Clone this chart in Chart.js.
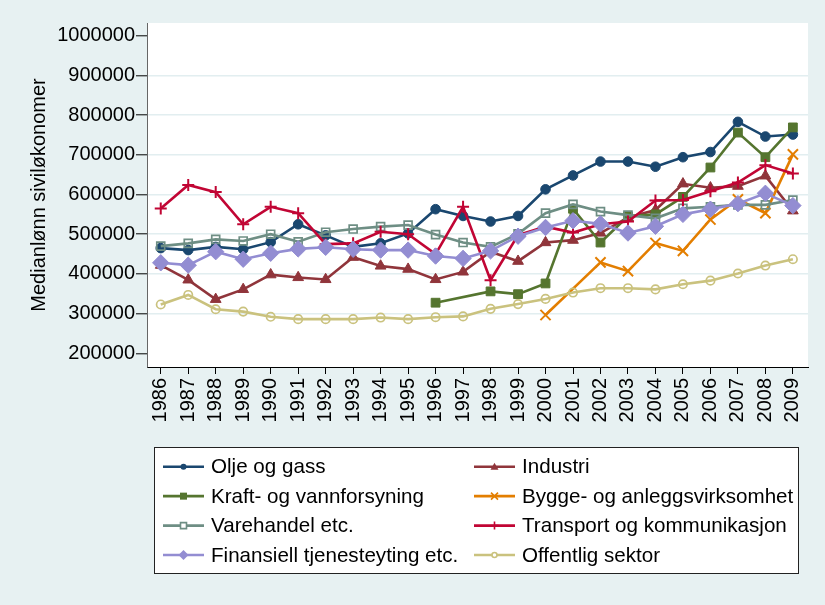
<!DOCTYPE html>
<html><head><meta charset="utf-8">
<script src="https://cdn.jsdelivr.net/npm/chart.js@4.4.1/dist/chart.umd.min.js"></script>
<style>html,body{margin:0;padding:0;background:#e7f1f2;}canvas{display:block;}</style>
</head><body>
<canvas id="c" width="825" height="605"></canvas>
<script>
// ---------- data ----------
const years = [1986,1987,1988,1989,1990,1991,1992,1993,1994,1995,1996,1997,1998,1999,2000,2001,2002,2003,2004,2005,2006,2007,2008,2009];
const yTicks = [200000,300000,400000,500000,600000,700000,800000,900000,1000000];
const yTitle = 'Medianlønn siviløkonomer';
const seriesNames = ['Olje og gass','Industri','Kraft- og vannforsyning','Bygge- og anleggsvirksomhet','Varehandel etc.','Transport og kommunikasjon','Finansiell tjenesteyting etc.','Offentlig sektor'];
const oljeOgGass = [465000,460000,468000,462000,480000,525000,497000,468000,477000,502000,563000,546000,532000,546000,613000,648000,683000,683000,670000,694000,707000,783000,746000,751000];
const industri = [422000,385000,336000,361000,398000,391000,386000,442000,420000,412000,386000,405000,456000,432000,479000,485000,503000,542000,561000,627000,617000,621000,647000,559000];
const kraftVann = [null,null,null,null,null,null,null,null,null,null,327500,null,356000,349000,376000,564000,479000,545000,550000,594000,668000,756000,694000,769000];
const byggeAnlegg = [null,null,null,null,null,null,null,null,null,null,null,null,null,null,296500,null,429000,407000,478000,458000,537000,588000,553000,701000];
const varehandel = [470000,477000,487000,483000,500000,481000,505000,513000,519000,523000,499000,479000,468000,501000,553000,575000,557000,548000,540000,565000,569000,574000,574000,586000];
const transport = [565000,624000,606000,525000,569000,553000,475000,477000,506000,500000,450000,569000,384000,498000,519000,504000,525000,532000,585000,586000,608000,630000,674000,653000];
const finansiell = [428000,422000,456000,437000,452000,463000,467000,462000,460000,460000,445000,439000,458000,495000,517000,534000,526000,503000,520000,550000,563000,577000,603000,572000];
const offentlig = [323000,347000,311000,305000,292000,286000,286000,286000,290000,286000,291000,293000,312000,324000,337000,353000,364000,364000,361000,374000,383000,401000,421000,437000];

// ---------- styles ----------
const FONT = "'Liberation Sans', Arial, Helvetica, sans-serif";
const BG = '#e7f1f2';
const styles = [
  {color:'#1a476f', point:'circle',   r:4.8, fill:true,  bw:1},
  {color:'#90353b', point:'triangle', r:6.2, fill:true,  bw:1},
  {color:'#55752f', point:'rect',     r:6.2, fill:true,  bw:1},
  {color:'#e37e00', point:'crossRot', r:7.2, fill:false, bw:2},
  {color:'#6e8e84', point:'rect',     r:5.6, fill:false, bw:1.7},
  {color:'#c10534', point:'cross',    r:6,   fill:false, bw:2},
  {color:'#938dd2', point:'rectRot',  r:8.2, fill:true,  bw:1},
  {color:'#cac27e', point:'circle',   r:4.2, fill:false, bw:1.7}
];
const seriesData = [oljeOgGass, industri, kraftVann, byggeAnlegg, varehandel, transport, finansiell, offentlig];

const datasets = seriesData.map((arr, i) => {
  const s = styles[i];
  return {
    label: seriesNames[i],
    data: years.map((yr, k) => ({x: yr, y: arr[k]})),
    borderColor: s.color,
    backgroundColor: s.color,
    borderWidth: 2.6,
    pointStyle: s.point,
    pointRadius: s.r,
    pointBorderWidth: s.bw,
    pointBackgroundColor: s.fill ? s.color : 'rgba(255,255,255,0)',
    pointBorderColor: s.color,
    tension: 0,
    spanGaps: true,
    order: seriesData.length - i
  };
});

const bgPlugin = {
  id: 'bg',
  beforeDraw(chart) {
    const {ctx, chartArea: a} = chart;
    ctx.save();
    ctx.fillStyle = BG;
    ctx.fillRect(0, 0, chart.width, chart.height);
    ctx.fillStyle = '#ffffff';
    ctx.fillRect(a.left, a.top, a.right - a.left, a.bottom - a.top);
    ctx.restore();
  }
};

function drawMarker(ctx, style, x, y, size, color, fill) {
  ctx.save();
  ctx.strokeStyle = color; ctx.fillStyle = color; ctx.lineWidth = 1.6;
  ctx.beginPath();
  switch (style) {
    case 'circle': ctx.arc(x, y, size, 0, Math.PI * 2); break;
    case 'triangle': ctx.moveTo(x, y - size); ctx.lineTo(x + size, y + size * 0.75); ctx.lineTo(x - size, y + size * 0.75); ctx.closePath(); break;
    case 'rect': ctx.rect(x - size, y - size, size * 2, size * 2); break;
    case 'rectRot': ctx.moveTo(x, y - size); ctx.lineTo(x + size, y); ctx.lineTo(x, y + size); ctx.lineTo(x - size, y); ctx.closePath(); break;
    case 'crossRot': ctx.moveTo(x - size, y - size); ctx.lineTo(x + size, y + size); ctx.moveTo(x + size, y - size); ctx.lineTo(x - size, y + size); break;
    case 'cross': ctx.moveTo(x, y - size); ctx.lineTo(x, y + size); ctx.moveTo(x - size, y); ctx.lineTo(x + size, y); break;
  }
  if (fill && style !== 'cross' && style !== 'crossRot') { ctx.fill(); }
  else if (!fill && style !== 'cross' && style !== 'crossRot') { ctx.fillStyle = '#fff'; ctx.fill(); ctx.stroke(); }
  else { ctx.stroke(); }
  ctx.restore();
}

const legendPlugin = {
  id: 'customLegend',
  afterDraw(chart) {
    const ctx = chart.ctx;
    const box = {x: 154.5, y: 447.5, w: 644, h: 126};
    ctx.save();
    ctx.fillStyle = '#ffffff';
    ctx.fillRect(box.x, box.y, box.w, box.h);
    ctx.strokeStyle = '#222';
    ctx.lineWidth = 1;
    ctx.strokeRect(box.x, box.y, box.w, box.h);
    const rowY0 = 466.7, rowH = 29.45;
    const lineX = [163, 474], lineLen = 41, textX = [211, 522];
    const mSize = [3, 4, 3.5, 3.5, 3, 4, 5, 2.5];
    ctx.font = '20.6px ' + FONT;
    ctx.textBaseline = 'middle';
    chart.data.datasets.forEach((ds, i) => {
      const col = i % 2, row = Math.floor(i / 2);
      const y = rowY0 + row * rowH;
      const s = styles[i];
      ctx.strokeStyle = s.color;
      ctx.lineWidth = 2.6;
      ctx.beginPath();
      ctx.moveTo(lineX[col], y); ctx.lineTo(lineX[col] + lineLen, y);
      ctx.stroke();
      drawMarker(ctx, s.point, lineX[col] + lineLen / 2, y, mSize[i], s.color, s.fill);
      ctx.fillStyle = '#000';
      ctx.fillText(ds.label, textX[col], y + 1);
    });
    ctx.restore();
  }
};

new Chart(document.getElementById('c'), {
  type: 'line',
  data: {datasets},
  plugins: [bgPlugin, legendPlugin],
  options: {
    responsive: false,
    animation: false,
    devicePixelRatio: 1,
    layout: {padding: {top: 23, right: 17, bottom: 168, left: 0}},
    plugins: {legend: {display: false}, tooltip: {enabled: false}},
    scales: {
      x: {
        type: 'linear',
        min: 1985.5, max: 2009.55,
        afterBuildTicks: ax => { ax.ticks = years.map(v => ({value: v})); },
        afterFit: ax => { ax.height = 70; },
        ticks: {autoSkip: false, minRotation: 90, maxRotation: 90, padding: 4, color: '#000',
                font: {family: FONT, size: 20}, callback: v => String(v)},
        grid: {display: true, drawOnChartArea: false, tickLength: 7, tickColor: '#000', tickWidth: 1},
        border: {display: true, color: '#000', width: 1}
      },
      y: {
        type: 'linear',
        min: 165500, max: 1032000,
        afterBuildTicks: ax => { ax.ticks = yTicks.map(v => ({value: v})); },
        afterFit: ax => { ax.width = 147; },
        ticks: {padding: 1, color: '#000', font: {family: FONT, size: 20}, callback: v => String(v)},
        grid: {
          color: c => (c.tick && (c.tick.value === yTicks[0] || c.tick.value === yTicks[yTicks.length - 1])) ? 'rgba(0,0,0,0)' : '#e2eef0',
          lineWidth: 1.6, tickLength: 11, tickColor: '#000', tickWidth: 1
        },
        border: {display: true, color: '#666', width: 1},
        title: {display: true, text: yTitle, color: '#000', font: {family: FONT, size: 20}, padding: {top: 27, bottom: 0}}
      }
    }
  }
});
</script>
</body></html>
